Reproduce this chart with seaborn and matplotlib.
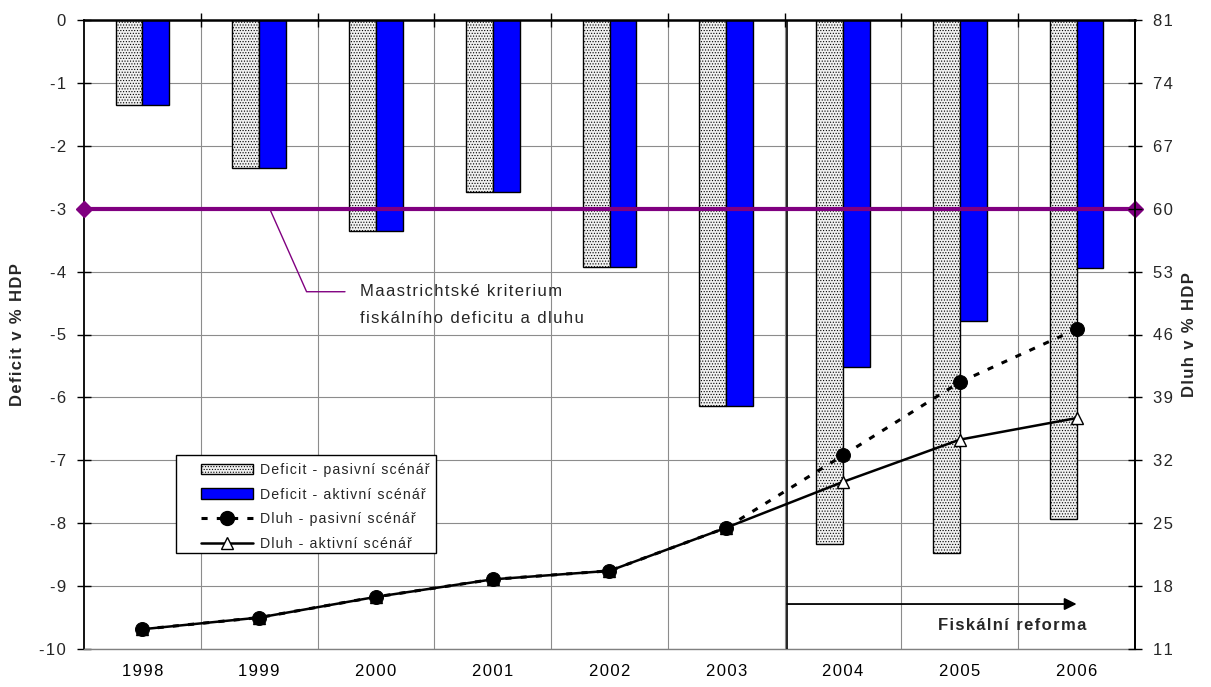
import numpy as np
import pandas as pd
import matplotlib
matplotlib.use("Agg")
import matplotlib.pyplot as plt
from matplotlib.ticker import FixedLocator
from matplotlib.lines import Line2D
from matplotlib.patches import Patch, Rectangle
import seaborn as sns

# --- data -----------------------------------------------------------------
years = ["1998", "1999", "2000", "2001", "2002", "2003", "2004", "2005", "2006"]
deficit_pasivni = [-1.35, -2.35, -3.35, -2.73, -3.92, -6.14, -8.33, -8.47, -7.94]
deficit_aktivni = [-1.35, -2.35, -3.35, -2.73, -3.92, -6.14, -5.51, -4.79, -3.94]
dluh_pasivni = [13.2, 14.5, 16.8, 18.75, 19.7, 24.5, 32.55, 40.7, 46.6]
dluh_aktivni = [13.2, 14.5, 16.8, 18.75, 19.7, 24.5, 29.6, 34.3, 36.7]
kriterium_deficit = -3
kriterium_dluh = 60

label_def_pas = "Deficit - pasivní scénář"
label_def_akt = "Deficit - aktivní scénář"
label_dluh_pas = "Dluh - pasivní scénář"
label_dluh_akt = "Dluh - aktivní scénář"


def spaced(s):
    """Widen the tracking of a label with hair spaces between characters."""
    return "\u200a".join(s)


# --- style ----------------------------------------------------------------
sns.set_theme(style="white")
plt.rcParams["font.family"] = ["Liberation Sans", "DejaVu Sans"]
plt.rcParams["hatch.color"] = "#b4b4b4"
plt.rcParams["hatch.linewidth"] = 0.5

FS = 12
FS_LEG = 10.2

fig = plt.figure(figsize=(12.11, 6.87), dpi=100)
ax = fig.add_axes([84 / 1211, 1 - 649 / 687, (1135 - 84) / 1211, (649 - 20) / 687])
ax.set_facecolor("white")

df = pd.DataFrame({
    "rok": years * 2,
    "scenar": [label_def_pas] * len(years) + [label_def_akt] * len(years),
    "deficit": deficit_pasivni + deficit_aktivni,
})

sns.barplot(data=df, x="rok", y="deficit", hue="scenar",
            palette=["#f0f0f0", "#0000ff"], width=0.46, gap=0,
            edgecolor="black", linewidth=1.0, saturation=1,
            legend=False, ax=ax, zorder=2)
for p in ax.patches[:len(years)]:
    p.set_hatch("......")

ax.set_xlim(-0.5, len(years) - 0.5)
ax.set_ylim(-10, 0)
ax.set_xticks(np.arange(len(years)))
ax.set_xticklabels([spaced(y) for y in years])
ax.set_yticks(np.arange(-10, 1, 1))
ax.set_yticklabels([spaced(str(v)) for v in range(-10, 1)])
ax.set_xlabel("")
ax.set_ylabel("")

# category boundaries: gridlines and ticks on the zero line at the top
ax.xaxis.set_minor_locator(FixedLocator(np.arange(0.5, len(years) - 0.5, 1)))
ax.grid(which="minor", axis="x", color="#8c8c8c", lw=0.8, zorder=0)
ax.grid(which="major", axis="y", color="#8c8c8c", lw=0.8, zorder=0)
ax.grid(which="major", axis="x", visible=False)
ax.set_axisbelow(True)
ax.tick_params(axis="x", which="major", length=0, pad=11, labelsize=FS, colors="black")
ax.tick_params(axis="x", which="minor", top=True, bottom=False, direction="inout",
               length=10, width=1, color="black")
ax.tick_params(axis="y", which="major", left=True, direction="inout", length=10,
               width=1, color="black", labelsize=FS, pad=8)

for side in ["left", "right", "top"]:
    ax.spines[side].set_color("black")
    ax.spines[side].set_linewidth(1.3)
ax.spines["top"].set_linewidth(1.8)
ax.spines["bottom"].set_color("#808080")
ax.spines["bottom"].set_linewidth(1.0)

# Maastricht criterion line with diamond end markers
ax.plot([-0.5, len(years) - 0.5], [kriterium_deficit, kriterium_deficit],
        color="#800080", lw=3, marker="D", markersize=8, clip_on=False, zorder=5)

# start of the fiscal reform
ax.axvline(5.52, color="black", lw=1.2, zorder=3)
ax.annotate("", xy=(8.0, -9.285), xytext=(5.52, -9.285),
            arrowprops=dict(arrowstyle="-|>", color="black", lw=1.3,
                            mutation_scale=18, shrinkA=0, shrinkB=0), zorder=6)
ax.text(8.08, -9.62, spaced("Fiskální reforma"), ha="right", va="center",
        fontsize=FS, fontweight="bold", zorder=6)

# annotation of the criterion
ax.plot([1.09, 1.406, 1.735], [-3, -4.32, -4.32], color="#800080", lw=1.0, zorder=5)
ax.text(1.86, -4.32, spaced("Maastrichtské kriterium"), ha="left", va="center", fontsize=FS)
ax.text(1.86, -4.74, spaced("fiskálního deficitu a dluhu"), ha="left", va="center", fontsize=FS)

# --- debt on secondary axis -------------------------------------------------
ax2 = ax.twinx()
xpos = np.arange(len(years))
sns.lineplot(x=xpos, y=dluh_aktivni, color="black", lw=1.8, marker="^",
             markersize=9, markerfacecolor="white", markeredgecolor="black",
             markeredgewidth=1.0, ax=ax2, zorder=4)
sns.lineplot(x=xpos, y=dluh_pasivni, color="black", lw=2.2, linestyle=(0, (2, 3)),
             marker="o", markersize=10, markerfacecolor="black",
             markeredgecolor="black", ax=ax2, zorder=5)
ax2.set_ylim(11, 81)
ax2.set_yticks(np.arange(11, 82, 7))
ax2.set_yticklabels([spaced(str(v)) for v in range(11, 82, 7)])
ax2.tick_params(axis="y", right=True, direction="inout", length=10, width=1,
                color="black", labelsize=FS, pad=8)
for side in ["left", "top", "bottom"]:
    ax2.spines[side].set_visible(False)
ax2.spines["right"].set_color("black")
ax2.spines["right"].set_linewidth(1.3)
ax2.grid(False)
ax2.set_ylabel("")

fig.text(18 / 1211, 1 - 335 / 687, spaced("Deficit v % HDP"), rotation=90, ha="center",
         va="center", fontsize=FS, fontweight="bold")
fig.text(1190 / 1211, 1 - 335 / 687, spaced("Dluh v % HDP"), rotation=90, ha="center",
         va="center", fontsize=FS, fontweight="bold")

# --- legend -------------------------------------------------------------------
ax2.add_patch(Rectangle((176 / 1211, 1 - 553 / 687), 260 / 1211, 98 / 687,
                        transform=fig.transFigure, facecolor="white",
                        edgecolor="black", lw=1.0, zorder=9, clip_on=False))
handles = [
    Patch(facecolor="#f0f0f0", edgecolor="black", hatch="......", lw=1.0),
    Patch(facecolor="#0000ff", edgecolor="black", lw=1.0),
    Line2D([], [], color="black", lw=2.2, linestyle=(0, (2, 3)), marker="o", markersize=10),
    Line2D([], [], color="black", lw=1.8, marker="^", markersize=9,
           markerfacecolor="white", markeredgecolor="black"),
]
labels = [spaced(s) for s in [label_def_pas, label_def_akt, label_dluh_pas, label_dluh_akt]]
leg = ax2.legend(handles, labels,
                 loc="upper left", bbox_to_anchor=(201 / 1211, 1 - 463 / 687),
                 bbox_transform=fig.transFigure, frameon=False,
                 fontsize=FS_LEG, handlelength=3.7, handleheight=0.8,
                 labelspacing=0.75, borderpad=0, handletextpad=0.5, borderaxespad=0)
leg.set_zorder(10)

fig.savefig("out.png", dpi=100, facecolor="white")
